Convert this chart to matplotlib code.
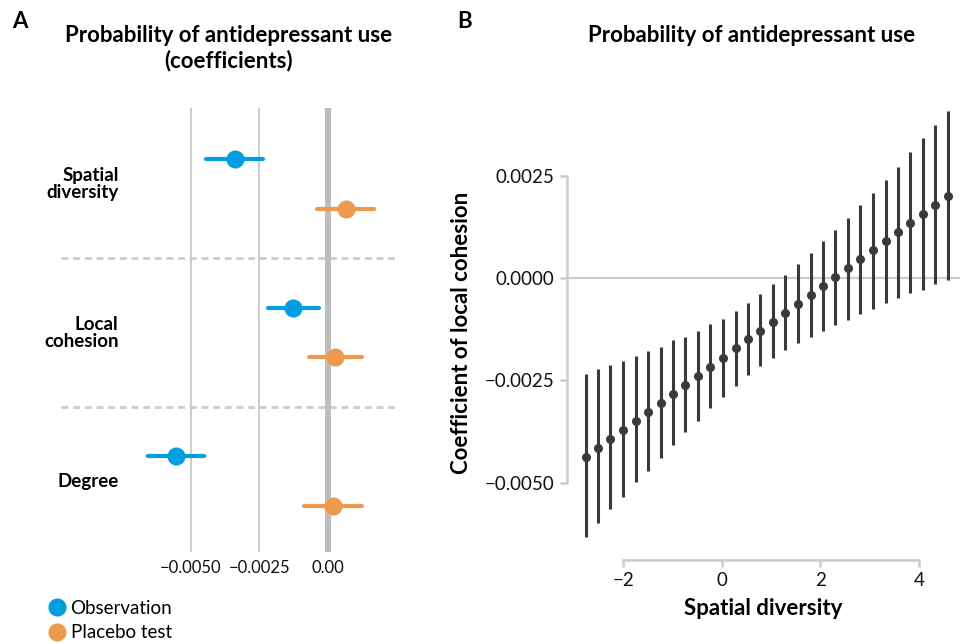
import matplotlib
matplotlib.use("Agg")
import matplotlib.pyplot as plt
from matplotlib.lines import Line2D
from matplotlib.ticker import FuncFormatter

plt.rcParams["font.family"] = ["Lato", "DejaVu Sans"]

# ==========================================
# Data - panel A (coefficients)
# ==========================================

categories = ["Spatial\ndiversity", "Local\ncohesion", "Degree"]

obs_coef = [-0.00339, -0.00127, -0.00556]
obs_low = [-0.00443, -0.00220, -0.00657]
obs_high = [-0.00238, -0.00032, -0.00451]

placebo_coef = [0.00066, 0.00026, 0.00017]
placebo_low = [-0.00039, -0.00069, -0.00086]
placebo_high = [0.00168, 0.00123, 0.00123]

# ==========================================
# Data - panel B (marginal effect)
# ==========================================

spatial_div = [-2.76, -2.51, -2.26, -2.00, -1.75, -1.50, -1.24, -0.99,
               -0.74, -0.48, -0.23, 0.02, 0.28, 0.53, 0.78, 1.04,
               1.29, 1.54, 1.80, 2.05, 2.30, 2.56, 2.81, 3.06,
               3.32, 3.57, 3.82, 4.08, 4.33, 4.58]

cohesion_coef = [-0.00436, -0.00414, -0.00393, -0.00371, -0.00348, -0.00326,
                 -0.00304, -0.00282, -0.00260, -0.00239, -0.00217, -0.00194,
                 -0.00172, -0.00150, -0.00129, -0.00107, -0.00085, -0.00063,
                 -0.00041, -0.00019, 0.00003, 0.00024, 0.00046, 0.00068,
                 0.00090, 0.00112, 0.00134, 0.00156, 0.00178, 0.00200]

cohesion_high = [-0.00234, -0.00221, -0.00212, -0.00202, -0.00190, -0.00177,
                 -0.00168, -0.00152, -0.00145, -0.00129, -0.00112, -0.00101,
                 -0.00080, -0.00062, -0.00039, -0.00014, 0.00007, 0.00034,
                 0.00062, 0.00090, 0.00118, 0.00147, 0.00177, 0.00208,
                 0.00239, 0.00270, 0.00307, 0.00341, 0.00373, 0.00407]

cohesion_low = [-0.00631, -0.00598, -0.00563, -0.00535, -0.00498, -0.00470,
                -0.00440, -0.00408, -0.00376, -0.00348, -0.00318, -0.00290,
                -0.00263, -0.00237, -0.00214, -0.00194, -0.00176, -0.00159,
                -0.00145, -0.00129, -0.00115, -0.00102, -0.00088, -0.00076,
                -0.00062, -0.00049, -0.00036, -0.00029, -0.00014, -0.00005]

# ==========================================
# Style
# ==========================================

BLUE = "#009fe3"
ORANGE = "#ee9a4d"
GRID = "#c8c8c8"
DARK = "#3a3a3a"

W, H = 960, 643

fig = plt.figure(figsize=(W / 100, H / 100), dpi=100)


def px(left, top, right, bottom):
    return [left / W, 1 - bottom / H, (right - left) / W, (bottom - top) / H]


def minus(v, fmt):
    return fmt.format(v).replace("-", "\u2212")


# ==========================================
# Panel A
# ==========================================

axA = fig.add_axes(px(61, 108, 395, 552))

group_y = [2, 1, 0]
off = 0.168

for x in [-0.005, -0.0025]:
    axA.axvline(x, color=GRID, lw=1.3, zorder=1)
axA.axvline(0, color="#bdbdbd", lw=4.3, zorder=1, solid_capstyle="round")

for y in [0.5, 1.5]:
    axA.axhline(y, color="#cccccc", lw=2, ls=(0, (2.5, 1.7)), zorder=0)

for i, y in enumerate(group_y):
    axA.plot([obs_low[i], obs_high[i]], [y + off, y + off],
             color=BLUE, lw=3, solid_capstyle="round", zorder=2)
    axA.plot(obs_coef[i], y + off, "o", color=BLUE, ms=13, mew=0, zorder=3)
    axA.plot([placebo_low[i], placebo_high[i]], [y - off, y - off],
             color=ORANGE, lw=3, solid_capstyle="round", zorder=2)
    axA.plot(placebo_coef[i], y - off, "o", color=ORANGE, ms=13, mew=0, zorder=3)
    axA.text(-0.00764, y, categories[i], ha="right", va="center",
             fontsize=13.5, fontweight="bold", linespacing=1.0)

axA.set_xlim(-0.00974, 0.00245)
axA.set_ylim(-0.478, 2.512)
axA.set_xticks([-0.005, -0.0025, 0.0])
axA.set_xticklabels(["\u22120.0050", "\u22120.0025", "0.00"])
axA.set_yticks([])
axA.tick_params(axis="x", length=0, pad=6, labelsize=12, labelcolor="#111111")
for s in axA.spines.values():
    s.set_visible(False)

handles = [
    Line2D([], [], marker="o", ls="", color=BLUE, ms=13, mew=0, label="Observation"),
    Line2D([], [], marker="o", ls="", color=ORANGE, ms=13, mew=0, label="Placebo test"),
]
fig.legend(handles=handles, loc="upper left", bbox_to_anchor=(49 / W, 1 - 600 / H),
           frameon=False, fontsize=13.5, handlelength=0.8, handletextpad=0.35,
           labelspacing=0.4, borderaxespad=0, borderpad=0)

fig.text(12 / W, 1 - 21 / H, "A", fontsize=16, fontweight="bold", va="center")
fig.text(229 / W, 1 - 48 / H, "Probability of antidepressant use\n(coefficients)",
         fontsize=16, fontweight="bold", ha="center", va="center", linespacing=1.2)

# ==========================================
# Panel B
# ==========================================

axB = fig.add_axes(px(567, 105, 960, 560))

axB.axhline(0, color="#cccccc", lw=1.6, zorder=0)

err_low = [c - l for c, l in zip(cohesion_coef, cohesion_low)]
err_high = [h - c for c, h in zip(cohesion_coef, cohesion_high)]

axB.errorbar(spatial_div, cohesion_coef, yerr=[err_low, err_high],
             fmt="o", color=DARK, ms=5.5, elinewidth=2.2, capsize=0, zorder=2)

axB.set_xlim(-3.14, 4.83)
axB.set_ylim(-0.00688, 0.00422)
axB.set_xticks([-2, 0, 2, 4])
axB.set_yticks([-0.005, -0.0025, 0.0, 0.0025])
axB.xaxis.set_major_formatter(FuncFormatter(lambda v, p: minus(v, "{:.0f}")))
axB.yaxis.set_major_formatter(FuncFormatter(lambda v, p: minus(v, "{:.4f}")))

for side in ["top", "right"]:
    axB.spines[side].set_visible(False)
for side in ["left", "bottom"]:
    axB.spines[side].set_color("#cccccc")
    axB.spines[side].set_linewidth(1.8)
axB.spines["left"].set_bounds(-0.005, 0.0025)
axB.spines["bottom"].set_bounds(-2, 4)

axB.tick_params(length=5, width=1.8, color="#cccccc", labelsize=13.5,
                labelcolor="#111111", pad=4)

axB.set_xlabel("Spatial diversity", fontsize=16, fontweight="bold", labelpad=6)
axB.set_ylabel("Coefficient of local cohesion", fontsize=16, fontweight="bold",
               labelpad=9)

fig.text(457 / W, 1 - 21 / H, "B", fontsize=16, fontweight="bold", va="center")
fig.text(752 / W, 1 - 35 / H, "Probability of antidepressant use",
         fontsize=16, fontweight="bold", ha="center", va="center")

fig.savefig("out.png", dpi=100)
